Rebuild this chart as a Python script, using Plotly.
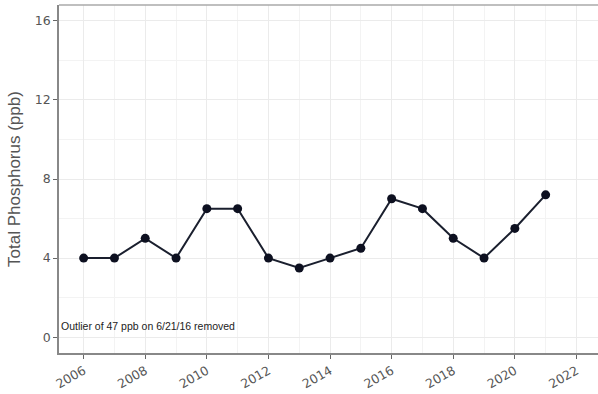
import plotly.graph_objects as go

years = [2006, 2007, 2008, 2009, 2010, 2011, 2012, 2013, 2014, 2015, 2016, 2017, 2018, 2019, 2020, 2021]
tp = [4, 4, 5, 4, 6.5, 6.5, 4, 3.5, 4, 4.5, 7, 6.5, 5, 4, 5.5, 7.2]
x_ticks = [2006, 2008, 2010, 2012, 2014, 2016, 2018, 2020, 2022]
y_ticks = [0, 4, 8, 12, 16]
note = "Outlier of 47 ppb on 6/21/16 removed"

fig = go.Figure()
fig.add_trace(go.Scatter(
    x=years, y=tp, mode="lines+markers",
    line=dict(color="#1a1f2e", width=2),
    marker=dict(color="#0d1020", size=9),
    showlegend=False,
))

fig.add_annotation(
    x=2005.2, y=0.55, xref="x", yref="y", text=note, showarrow=False,
    xanchor="left", yanchor="middle",
    font=dict(family="Liberation Sans, Arial", size=10.5, color="#222"),
)

fig.update_layout(
    width=598, height=394,
    margin=dict(l=59, r=0, t=5, b=41),
    paper_bgcolor="white", plot_bgcolor="white",
    font=dict(family="DejaVu Sans", color="#444"),
)
fig.update_xaxes(
    automargin=False,
    range=[2005.2, 2022.7], tickvals=x_ticks, ticktext=[str(t) for t in x_ticks],
    tickangle=-30, tickfont=dict(size=12.5, color="#555", family="DejaVu Sans"),
    showline=True, linecolor="#888", linewidth=1.5, mirror=False,
    ticks="outside", ticklen=4, tickcolor="#666",
    showgrid=True, gridcolor="#ebebeb", gridwidth=1, zeroline=False,
    minor=dict(dtick=1, tick0=2005, showgrid=True, gridcolor="#f3f3f3", gridwidth=1),
)
fig.update_yaxes(
    automargin=False,
    range=[-0.8, 16.8], tickvals=y_ticks,
    tickfont=dict(size=12.5, color="#555", family="DejaVu Sans"),
    title=dict(text="Total Phosphorus (ppb)", font=dict(family="Liberation Sans, Arial", size=17, color="#555"), standoff=10),
    showline=True, linecolor="#888", linewidth=1.5, mirror=False,
    ticks="outside", ticklen=4, tickcolor="#666",
    showgrid=True, gridcolor="#ebebeb", gridwidth=1, zeroline=False,
    minor=dict(dtick=2, tick0=0, showgrid=True, gridcolor="#f3f3f3", gridwidth=1),
)
fig.add_shape(type="line", xref="paper", yref="paper", x0=0, x1=1, y0=1, y1=1,
              line=dict(color="#aaa", width=1.5))

fig.write_html("out.html", config={"displayModeBar": False},
               post_script="document.body.style.margin='0';document.body.style.overflow='hidden';")
